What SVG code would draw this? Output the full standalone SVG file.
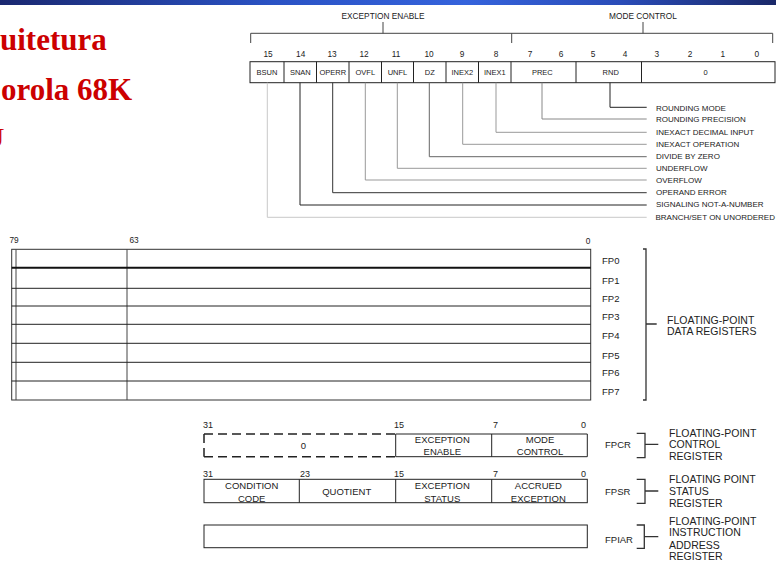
<svg xmlns="http://www.w3.org/2000/svg" width="776" height="562" viewBox="0 0 776 562">
<defs>
<linearGradient id="bar" x1="0" y1="0" x2="1" y2="0">
<stop offset="0" stop-color="#1a2870"/>
<stop offset="0.35" stop-color="#2a52c4"/>
<stop offset="0.6" stop-color="#3563dc"/>
<stop offset="0.8" stop-color="#2a4cb8"/>
<stop offset="1" stop-color="#1a2868"/>
</linearGradient>
<style>
text{font-family:"Liberation Sans",Arial,sans-serif;fill:#222}
.title{font-family:"Liberation Serif","Times New Roman",serif;font-weight:bold;font-size:31px;fill:#cc0000}
.t8{font-size:8.3px}
.lg{font-size:8px}
.t75{font-size:7.5px}
.t9{font-size:9px}
.t95{font-size:9.5px}
.t10{font-size:10.5px}
.m{text-anchor:middle}
.box{fill:none;stroke:#222;stroke-width:1}
.ln{fill:none;stroke:#222;stroke-width:1}
.br{fill:none;stroke:#333;stroke-width:1.3}
</style>
</defs>
<rect x="0" y="0" width="776" height="5" fill="url(#bar)"/>

<g id="title">
<text class="title" x="0" y="50">uitetura</text>
<text class="title" x="1" y="100">orola 68K</text>
<text x="-16" y="147" style="font-family:'Liberation Serif',serif;font-size:28px;fill:#cc0000">U</text>
</g>

<g id="fpcr-bits">
<text class="t8 m" x="383" y="18.5">EXCEPTION ENABLE</text>
<text class="t8 m" x="643" y="18.5">MODE CONTROL</text>
<g class="t8">
<text class="m" x="268" y="56.7">15</text>
<text class="m" x="300.7" y="56.7">14</text>
<text class="m" x="332" y="56.7">13</text>
<text class="m" x="364" y="56.7">12</text>
<text class="m" x="396" y="56.7">11</text>
<text class="m" x="429" y="56.7">10</text>
<text class="m" x="462" y="56.7">9</text>
<text class="m" x="496" y="56.7">8</text>
<text class="m" x="530" y="56.7">7</text>
<text class="m" x="561" y="56.7">6</text>
<text class="m" x="593" y="56.7">5</text>
<text class="m" x="625" y="56.7">4</text>
<text class="m" x="656.7" y="56.7">3</text>
<text class="m" x="690" y="56.7">2</text>
<text class="m" x="722.7" y="56.7">1</text>
<text class="m" x="756.7" y="56.7">0</text>
</g>
<rect class="box" x="250" y="61.7" width="525" height="21"/>
<path class="ln" d="M284,61.7V82.7M316.5,61.7V82.7M349,61.7V82.7M381.5,61.7V82.7M413.5,61.7V82.7M446,61.7V82.7M478.5,61.7V82.7M511,61.7V82.7M576,61.7V82.7M641.5,61.7V82.7"/>
<g class="t75">
<text class="m" x="267" y="75">BSUN</text>
<text class="m" x="300.3" y="75">SNAN</text>
<text class="m" x="332.8" y="75">OPERR</text>
<text class="m" x="365.3" y="75">OVFL</text>
<text class="m" x="397.5" y="75">UNFL</text>
<text class="m" x="429.8" y="75">DZ</text>
<text class="m" x="462.3" y="75">INEX2</text>
<text class="m" x="494.8" y="75">INEX1</text>
<text class="m" x="542.3" y="75">PREC</text>
<text class="m" x="610.7" y="75">RND</text>
<text class="m" x="705.7" y="75">0</text>
</g>
</g>

<g id="legend" class="lg">
<text x="656" y="111.3">ROUNDING MODE</text>
<text x="656" y="122.3">ROUNDING PRECISION</text>
<text x="656" y="134.7">INEXACT DECIMAL INPUT</text>
<text x="656" y="147">INEXACT OPERATION</text>
<text x="656" y="159">DIVIDE BY ZERO</text>
<text x="656" y="170.7">UNDERFLOW</text>
<text x="656" y="183">OVERFLOW</text>
<text x="656" y="195.3">OPERAND ERROR</text>
<text x="656" y="207.3">SIGNALING NOT-A-NUMBER</text>
<text x="655.5" y="219.7">BRANCH/SET ON UNORDERED</text>
</g>

<g id="fp-data-registers">
<text class="t8 m" x="14" y="243">79</text>
<text class="t8 m" x="134" y="243">63</text>
<text class="t8 m" x="588" y="244">0</text>
<rect x="11.7" y="249.3" width="579" height="150.7" fill="none" stroke="#333" stroke-width="1"/>
<path d="M16,249.3V400M127,249.3V400" fill="none" stroke="#444" stroke-width="1"/>
<path d="M11.7,267.7H590.7" stroke="#111" stroke-width="2"/>
<path class="ln" d="M11.7,288.3H590.7M11.7,306H590.7M11.7,324.3H590.7M11.7,343.3H590.7M11.7,362.3H590.7M11.7,381H590.7" stroke="#111"/>
<g class="t95">
<text x="602" y="263.5">FP0</text>
<text x="602" y="283.5">FP1</text>
<text x="602" y="301.8">FP2</text>
<text x="602" y="320.2">FP3</text>
<text x="602" y="338.5">FP4</text>
<text x="602" y="358.5">FP5</text>
<text x="602" y="376.2">FP6</text>
<text x="602" y="394.5">FP7</text>
</g>
<text class="t10" x="667" y="323.7">FLOATING-POINT</text>
<text class="t10" x="667" y="334.7">DATA REGISTERS</text>
</g>

<g id="fpcr">
<g class="t9">
<text class="m" x="208" y="428">31</text>
<text class="m" x="399" y="428">15</text>
<text class="m" x="495.5" y="428">7</text>
<text class="m" x="583.5" y="428">0</text>
</g>
<path d="M204,434H395.7M204,456.7H395.7M204,434V456.7" fill="none" stroke="#222" stroke-width="1.5" stroke-dasharray="9 5"/>
<path class="ln" d="M395.7,434H587.3V456.7H395.7ZM491.7,434V456.7"/>
<text class="t95 m" x="303.3" y="449">0</text>
<text class="t95 m" x="442.3" y="442.7">EXCEPTION</text>
<text class="t95 m" x="442.3" y="455">ENABLE</text>
<text class="t95 m" x="540" y="442.7">MODE</text>
<text class="t95 m" x="540" y="455">CONTROL</text>
<text class="t95" x="605" y="447.8">FPCR</text>
<text class="t10" x="669" y="436.5">FLOATING-POINT</text>
<text class="t10" x="669" y="448">CONTROL</text>
<text class="t10" x="669" y="459.5">REGISTER</text>
</g>

<g id="fpsr">
<g class="t9">
<text class="m" x="208" y="476.5">31</text>
<text class="m" x="305" y="476.5">23</text>
<text class="m" x="399" y="476.5">15</text>
<text class="m" x="495.5" y="476.5">7</text>
<text class="m" x="583.5" y="476.5">0</text>
</g>
<rect class="box" x="204" y="479.3" width="383.3" height="23.4"/>
<path class="ln" d="M299.3,479.3V502.7M395.7,479.3V502.7M491.7,479.3V502.7"/>
<text class="t95 m" x="251.7" y="489.4">CONDITION</text>
<text class="t95 m" x="251.7" y="501.6">CODE</text>
<text class="t95 m" x="346.7" y="495.1">QUOTIENT</text>
<text class="t95 m" x="442.3" y="489.4">EXCEPTION</text>
<text class="t95 m" x="442.3" y="501.6">STATUS</text>
<text class="t95 m" x="538.3" y="489.4">ACCRUED</text>
<text class="t95 m" x="538.3" y="501.6">EXCEPTION</text>
<text class="t95" x="605" y="495">FPSR</text>
<text class="t10" x="669" y="483">FLOATING POINT</text>
<text class="t10" x="669" y="494.5">STATUS</text>
<text class="t10" x="669" y="506.5">REGISTER</text>
</g>

<g id="fpiar">
<rect class="box" x="204" y="525" width="383.3" height="22.7"/>
<text class="t95" x="605" y="542.7">FPIAR</text>
<text class="t10" x="669" y="524.7">FLOATING-POINT</text>
<text class="t10" x="669" y="536.4">INSTRUCTION</text>
<text class="t10" x="669" y="548.7">ADDRESS</text>
<text class="t10" x="669" y="559.7">REGISTER</text>
</g>

<g id="connectors">
<path d="M250.7,43V33.3H772.7V43M511.7,33.3V43M383,22V33.3M643,22V33.3" fill="none" stroke="#444" stroke-width="1"/>
<path d="M610,82.7V107.3H646.7" fill="none" stroke="#222" stroke-width="1"/>
<path d="M542,82.7V119H646.7" fill="none" stroke="#888" stroke-width="1"/>
<path d="M496,82.7V132.3H646.7" fill="none" stroke="#999" stroke-width="1"/>
<path d="M462.7,82.7V144.3H646.7" fill="none" stroke="#999" stroke-width="1"/>
<path d="M429.3,82.7V156.7H646.7" fill="none" stroke="#666" stroke-width="1"/>
<path d="M397.3,82.7V168.3H646.7" fill="none" stroke="#999" stroke-width="1"/>
<path d="M365.3,82.7V180H646.7" fill="none" stroke="#999" stroke-width="1"/>
<path d="M332.7,82.7V192.7H646.7" fill="none" stroke="#333" stroke-width="1"/>
<path d="M300,82.7V205H646.7" fill="none" stroke="#222" stroke-width="1"/>
<path d="M267.3,82.7V217.3H646.7" fill="none" stroke="#c8c8c8" stroke-width="1"/>
<path class="br" d="M643,249H646V400H643M646,324H656.7"/>
<path class="br" d="M636.7,433.3H645V457.7H636.7M645,444.3H658.3"/>
<path class="br" d="M636.7,479.3H645V503.3H636.7M645,491H658.3"/>
<path class="br" d="M636.7,525H644.3V548.3H636.7M644.3,536.7H658.3"/>
</g>
</svg>
